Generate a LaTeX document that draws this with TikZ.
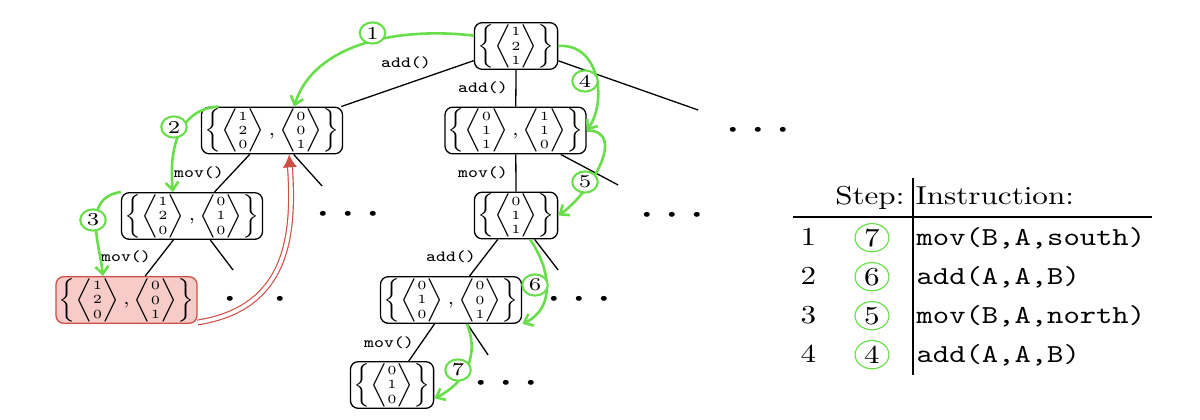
\RequirePackage{fix-cm}
\documentclass[tikz,border=0pt]{standalone}
\usepackage{amsmath}
\usetikzlibrary{arrows.meta}
\definecolor{grn}{RGB}{105,222,75}
\definecolor{redfill}{RGB}{246,203,200}
\definecolor{reddraw}{RGB}{205,80,70}
\newcommand\vv[3]{\left\langle\vcenter{\fontsize{4.8}{5.5}\selectfont\halign{\hfil##\hfil\cr#1\cr#2\cr#3\cr}}\right\rangle}
\begin{document}
\begin{tikzpicture}[x={(0.32167pt,0)}, y={(0,-0.386pt)}, xscale=1.2,
  every node/.append style={transform shape},
  tbox/.style={draw, rounded corners=3pt, line width=0.5pt, xscale=0.91, inner xsep=1pt, inner ysep=0.6pt, font=\fontsize{7}{8}\selectfont},
  lbl/.style={font=\ttfamily\fontsize{6}{7}\selectfont, inner sep=0pt},
  dts/.style={font=\fontsize{18}{18}\selectfont, inner sep=0pt},
  tline/.style={line width=0.5pt},
  garr/.style={grn, line width=1pt, -{Straight Barb[length=3pt,width=5pt]}},
  gnum/.style={circle, draw=grn, line width=0.8pt, fill=white, inner sep=0pt, minimum size=8.2pt, font=\fontsize{7}{8}\selectfont},
  tcirc/.style={circle, draw=grn, line width=0.45pt, inner sep=0pt, minimum size=10.9pt},
  cell/.style={inner sep=0pt}
]
\useasboundingbox (0,0) rectangle (1200,420);

% tree nodes
\node[tbox] (R) at (516,46) {$\left\{\vv121\right\}$};
\node[tbox] (A) at (272,130.5) {$\left\{\vv120,\vv001\right\}$};
\node[tbox] (B) at (515.5,130.5) {$\left\{\vv011,\vv110\right\}$};
\node[tbox] (C) at (192,216) {$\left\{\vv120,\vv010\right\}$};
\node[tbox] (E) at (516,215.5) {$\left\{\vv011\right\}$};
\node[tbox, fill=redfill, draw=reddraw] (D) at (126.5,300) {$\left\{\vv120,\vv001\right\}$};
\node[tbox] (F) at (451,300) {$\left\{\vv010,\vv001\right\}$};
\node[tbox] (G) at (392,385) {$\left\{\vv010\right\}$};

% free ends
\coordinate (r3) at (698,110);
\coordinate (a2) at (322,186);
\coordinate (c2) at (233,270);
\coordinate (b2) at (618,185);
\coordinate (e2) at (558,270);
\coordinate (f2) at (488,355);

\draw[tline] (R) -- (A);
\draw[tline] (R) -- (B);
\draw[tline] (R) -- (r3);
\draw[tline] (A) -- (C);
\draw[tline] (A) -- (a2);
\draw[tline] (C) -- (D);
\draw[tline] (C) -- (c2);
\draw[tline] (B) -- (E);
\draw[tline] (B) -- (b2);
\draw[tline] (E) -- (F);
\draw[tline] (E) -- (e2);
\draw[tline] (F) -- (G);
\draw[tline] (F) -- (f2);

% edge labels
\node[lbl] (l1) at (406,63) {add()};
\node[lbl] (l2) at (483,88) {add()};
\node[lbl] (l3) at (199,173) {mov()};
\node[lbl] (l4) at (483,173) {mov()};
\node[lbl] (l5) at (126,257) {mov()};
\node[lbl] (l6) at (451,257) {add()};
\node[lbl] (l7) at (389,343) {mov()};

% dots
\node[dts] (d1) at (763,131) {$\cdots$};
\node[dts] (d2) at (353,215) {$\cdots$};
\node[dts] (d3) at (677,216) {$\cdots$};
\node[dts] (d4) at (260,300) {$\cdots$};
\node[dts] (d5) at (584,300) {$\cdots$};
\node[dts] (d6) at (511,384) {$\cdots$};

% red double arrow
\draw[reddraw, double=white, double distance=1.4pt, line width=0.45pt, -{Latex[length=5pt,width=5.5pt]}] (D.-19) .. controls +(88,-14) and +(6,85) .. (A.-57);

% green arrows
\draw[garr] (R.165) to[out=172,in=75] (A.50);
\draw[garr] (A.154) to[out=185,in=95] (C.126);
\draw[garr] (C.north west) to[out=190,in=95] (D.132);
\draw[garr] (R.east) to[out=5,in=60] (B.east);
\draw[garr] (B.east) to[out=0,in=40] (E.east);
\draw[garr] (E.-62) to[out=-60,in=30] (F.south east);
\draw[garr] (F.-59) to[out=-70,in=30] (G.-19);

\node[gnum] (g1) at (372.5,33) {1};
\node[gnum] (g2) at (174,127) {2};
\node[gnum] (g3) at (93,220) {3};
\node[gnum] (g4) at (585,81) {4};
\node[gnum] (g5) at (585,182) {5};
\node[gnum] (g6) at (535,285) {6};
\node[gnum] (g7) at (458,370) {7};

% table
\node[cell, anchor=base east] (hs) at (905,205) {Step:};
\node[cell, anchor=base west] (hi) at (915,205) {Instruction:};
\node[cell, anchor=base west] (n1) at (800,246) {1};
\node[cell, anchor=base west] (n2) at (800,285) {2};
\node[cell, anchor=base west] (n3) at (800,324) {3};
\node[cell, anchor=base west] (n4) at (800,363) {4};
\node[tcirc] (c1) at (872,237.7) {7};
\node[tcirc] (c2t) at (872,276.7) {6};
\node[tcirc] (c3) at (872,315.7) {5};
\node[tcirc] (c4) at (872,354.7) {4};
\node[cell, anchor=base west] (t1) at (916,246) {\texttt{mov(B,A,south)}};
\node[cell, anchor=base west] (t2) at (916,285) {\texttt{add(A,A,B)}};
\node[cell, anchor=base west] (t3) at (916,324) {\texttt{mov(B,A,north)}};
\node[cell, anchor=base west] (t4) at (916,363) {\texttt{add(A,A,B)}};
\draw[line width=0.5pt] (793,217) -- (1152,217);
\draw[line width=0.5pt] (913,178) -- (913,375);
\end{tikzpicture}
\end{document}
